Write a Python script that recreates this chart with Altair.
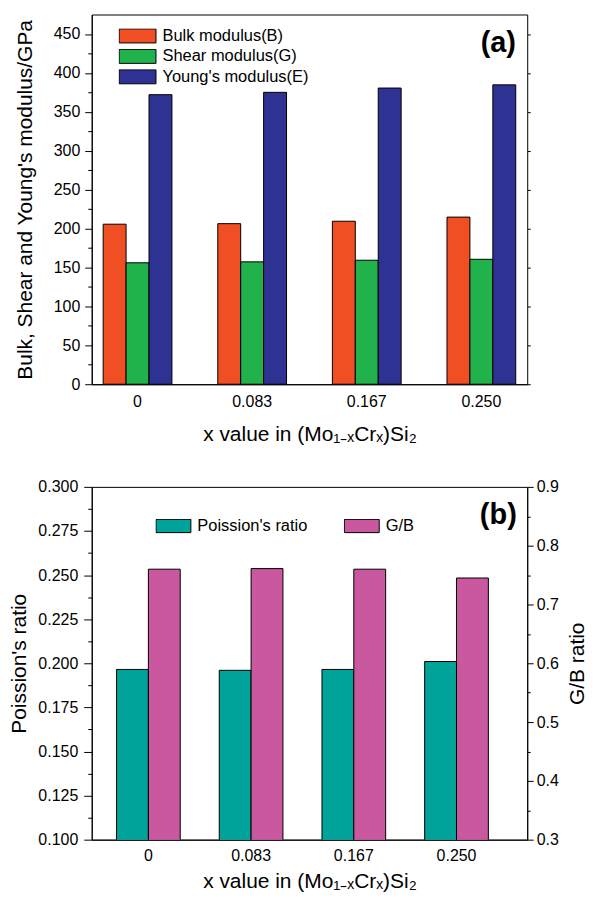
import altair as alt
import pandas as pd

# ---------------- data ----------------
x_labels = ["0", "0.083", "0.167", "0.250"]

series_a = ["Bulk modulus(B)", "Shear modulus(G)", "Young's modulus(E)"]
bulk = [205.6, 206.3, 209.4, 214.7]
shear = [156.0, 157.2, 159.3, 160.5]
young = [372.0, 375.0, 380.5, 384.6]
colors_a = ["#F04E23", "#22B24C", "#2E3393"]

series_b = ["Poission's ratio", "G/B"]
poisson = [0.1965, 0.1960, 0.1965, 0.2010]
gb_ratio = [0.760, 0.761, 0.760, 0.745]
colors_b = ["#00A39A", "#C9589F"]

FONT = "Liberation Sans"
RECT = "M-1,-0.38L1,-0.38L1,0.38L-1,0.38Z"

rows_a = []
for name, vals in zip(series_a, [bulk, shear, young]):
    for xl, v in zip(x_labels, vals):
        rows_a.append({"x": xl, "series": name, "value": v})
df_a = pd.DataFrame(rows_a)

df_p = pd.DataFrame({"x": x_labels, "series": series_b[0], "value": poisson})
df_g = pd.DataFrame({"x": x_labels, "series": series_b[1], "value": gb_ratio})

W = 437
H_A = 371
H_B = 354

# ---------------- panel (a) ----------------
ya_scale = alt.Scale(domain=[0, 475], nice=False, zero=False)
xa = alt.X(
    "x:N", sort=x_labels,
    scale=alt.Scale(paddingInner=0.4, paddingOuter=0.1),
    axis=alt.Axis(title="x value in (Mo₁₋ₓCrₓ)Si₂", labelAngle=0, ticks=False,
                  tickSize=0, labelPadding=9, titlePadding=14),
)
bars_a = alt.Chart(df_a).mark_bar(stroke="black", strokeWidth=1).encode(
    x=xa,
    xOffset=alt.XOffset("series:N", sort=series_a,
                        scale=alt.Scale(domain=series_a, paddingInner=0, paddingOuter=0)),
    y=alt.Y("value:Q", scale=ya_scale,
            axis=alt.Axis(title="Bulk, Shear and Young's modulus/GPa", orient="left",
                          values=list(range(0, 451, 50)), tickSize=7, labelPadding=5,
                          titlePadding=18, grid=False)),
    color=alt.Color("series:N", sort=series_a,
                    scale=alt.Scale(domain=series_a, range=colors_a),
                    legend=alt.Legend(title=None, orient="none", legendX=27, legendY=14,
                                      direction="vertical", symbolType=RECT,
                                      symbolSize=1369, symbolStrokeColor="black",
                                      symbolStrokeWidth=1, clipHeight=15, rowPadding=3.5,
                                      labelOffset=6, labelFontSize=16.5, labelFont=FONT,
                                      labelColor="black", padding=0)),
)
minor_a = alt.Chart(df_a).mark_point(opacity=0).encode(
    y=alt.Y("value:Q", scale=ya_scale,
            axis=alt.Axis(title=None, orient="left", labels=False, domain=False,
                          values=list(range(25, 450, 50)), tickSize=4, grid=False)),
)
right_a = alt.Chart(df_a).mark_point(opacity=0).encode(
    y=alt.Y("value:Q", scale=ya_scale,
            axis=alt.Axis(title=None, orient="right", labels=False, domain=False,
                          values=list(range(0, 451, 50)), tickSize=3, grid=False)),
)
tag_a = alt.Chart(pd.DataFrame({"t": ["(a)"]})).mark_text(
    font=FONT, fontSize=29, fontWeight="bold", color="black", align="center", baseline="middle"
).encode(text="t:N", x=alt.value(408), y=alt.value(29))

panel_a = alt.layer(bars_a, minor_a, right_a, tag_a).resolve_axis(y="independent").properties(
    width=W, height=H_A)

# ---------------- panel (b) ----------------
yp_scale = alt.Scale(domain=[0.1, 0.3], nice=False, zero=False)
yg_scale = alt.Scale(domain=[0.3, 0.9], nice=False, zero=False)
xb = alt.X(
    "x:N", sort=x_labels,
    scale=alt.Scale(paddingInner=0.38, paddingOuter=0.31, align=0.39),
    axis=alt.Axis(title="x value in (Mo₁₋ₓCrₓ)Si₂", labelAngle=0, ticks=False,
                  tickSize=0, labelPadding=8, titlePadding=7),
)
xoff_b = alt.XOffset("series:N", sort=series_b,
                     scale=alt.Scale(domain=series_b, paddingInner=0, paddingOuter=0))
color_b_legend = alt.Legend(title=None, orient="none", legendX=64, legendY=32,
                            direction="horizontal", symbolType=RECT, symbolSize=1225,
                            symbolStrokeColor="black", symbolStrokeWidth=1, clipHeight=14,
                            columnPadding=36, labelOffset=6, labelFontSize=16.5,
                            labelFont=FONT, labelColor="black", padding=0)
color_b = alt.Color("series:N", sort=series_b,
                    scale=alt.Scale(domain=series_b, range=colors_b), legend=color_b_legend)

bars_p = alt.Chart(df_p).mark_bar(stroke="black", strokeWidth=1, clip=True).encode(
    x=xb, xOffset=xoff_b, color=color_b,
    y=alt.Y("value:Q", scale=yp_scale,
            axis=alt.Axis(title="Poission's ratio", orient="left", format=".3f",
                          values=[0.1, 0.125, 0.15, 0.175, 0.2, 0.225, 0.25, 0.275, 0.3],
                          tickSize=8, labelPadding=6, titlePadding=8, grid=False)),
)
minor_p = alt.Chart(df_p).mark_point(opacity=0).encode(
    y=alt.Y("value:Q", scale=yp_scale,
            axis=alt.Axis(title=None, orient="left", labels=False, domain=False,
                          values=[0.1125, 0.1375, 0.1625, 0.1875, 0.2125, 0.2375, 0.2625, 0.2875],
                          tickSize=4, grid=False)),
)
bars_g = alt.Chart(df_g).mark_bar(stroke="black", strokeWidth=1, clip=True).encode(
    x=xb, xOffset=xoff_b, color=color_b,
    y=alt.Y("value:Q", scale=yg_scale,
            axis=alt.Axis(title="G/B ratio", orient="right", format=".1f",
                          values=[0.3, 0.4, 0.5, 0.6, 0.7, 0.8, 0.9],
                          tickSize=6, labelPadding=3, titlePadding=8, titleAngle=270,
                          titleBaseline="top", grid=False)),
)
minor_g = alt.Chart(df_g).mark_point(opacity=0).encode(
    y=alt.Y("value:Q", scale=yg_scale,
            axis=alt.Axis(title=None, orient="right", labels=False, domain=False,
                          values=[0.35, 0.45, 0.55, 0.65, 0.75, 0.85], tickSize=3, grid=False)),
)
tag_b = alt.Chart(pd.DataFrame({"t": ["(b)"]})).mark_text(
    font=FONT, fontSize=29, fontWeight="bold", color="black", align="center", baseline="middle"
).encode(text="t:N", x=alt.value(408), y=alt.value(28))

panel_b = alt.layer(bars_p, minor_p, bars_g, minor_g, tag_b).resolve_scale(
    y="independent").resolve_axis(y="independent").properties(width=W, height=H_B)

chart = alt.vconcat(panel_a, panel_b, spacing=103, bounds="flush").resolve_scale(
    x="independent", xOffset="independent", y="independent", color="independent"
).resolve_legend(color="independent").properties(
    padding={"left": 0, "top": 4, "right": 0, "bottom": 0}
).configure_view(stroke="black", strokeWidth=1).configure_axis(
    labelFont=FONT, titleFont=FONT, labelFontSize=16, titleFontSize=21,
    labelColor="black", titleColor="black", tickColor="black", domainColor="black",
    titleFontWeight="normal", domainWidth=1, tickWidth=1,
)

chart.save("out.html", embed_options={"renderer": "svg", "actions": False})
